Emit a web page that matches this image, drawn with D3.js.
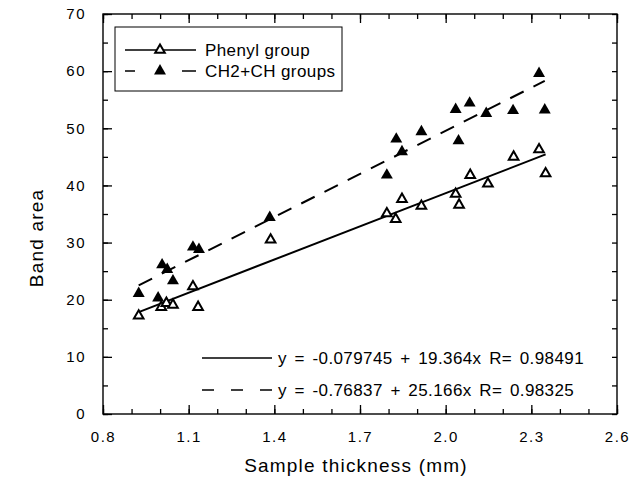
<!DOCTYPE html>
<html>
<head>
<meta charset="utf-8">
<style>
  body { margin: 0; background: #fff; }
  text { font-family: "Liberation Sans", Arial, Helvetica, sans-serif; fill: #000; }
</style>
</head>
<body>
<script src="https://cdn.jsdelivr.net/npm/d3@7"></script>
<script>

    // readings taken off the plot: sample thickness (mm) and band area
    var phenylX = [0.925, 1.004, 1.022, 1.045, 1.115, 1.133, 1.387, 1.794, 1.825, 1.847,
                   1.915, 2.035, 2.047, 2.086, 2.148, 2.238, 2.327, 2.350];
    var phenylY = [17.2, 18.7, 19.4, 19.1, 22.3, 18.7, 30.5, 35.1, 34.1, 37.6,
                   36.4, 38.5, 36.6, 41.8, 40.3, 45.0, 46.3, 42.1];

    var chX = [0.925, 0.993, 1.007, 1.025, 1.045, 1.115, 1.136, 1.384, 1.794, 1.827,
               1.847, 1.915, 2.035, 2.045, 2.084, 2.142, 2.236, 2.327, 2.347];
    var chY = [21.1, 20.3, 26.1, 25.3, 23.3, 29.2, 28.8, 34.4, 41.8, 48.1,
               45.9, 49.4, 53.3, 47.8, 54.4, 52.6, 53.1, 59.6, 53.2];

    // linear fits printed on the chart: [intercept, slope]
    var phenylFit = [-0.079745, 19.364];
    var chFit = [-0.76837, 25.166];

    var seriesNames = ["Phenyl group", "CH2+CH groups"];
    var fitLabels = ["y = -0.079745 + 19.364x R= 0.98491",
                     "y = -0.76837 + 25.166x R= 0.98325"];

    var xMajor = [0.8, 1.1, 1.4, 1.7, 2.0, 2.3, 2.6];
    var yMajor = [0, 10, 20, 30, 40, 50, 60, 70];

    var width = 635, height = 488;
    // plot frame (note: "top" would clash with window.top)
    var pL = 103, pR = 617, pT = 14, pB = 414;

    var x = d3.scaleLinear().domain([0.8, 2.6]).range([pL, pR]);
    var y = d3.scaleLinear().domain([0, 70]).range([pB, pT]);

    var svg = d3.select("body").append("svg")
        .attr("width", width)
        .attr("height", height);

    var xMinor = d3.range(8, 27).map(function (d) { return d / 10; });
    var yMinor = d3.range(0, 71, 5);

    function styleAxis(g) {
        g.select(".domain").remove();
        g.selectAll("line").attr("stroke", "#000").attr("stroke-width", 1.3);
        g.selectAll("text").attr("font-size", 15).attr("letter-spacing", 1.5)
            .style("font-family", "'Liberation Sans', Arial, sans-serif");
    }

    // minor ticks first, then majors with labels
    svg.append("g").attr("transform", "translate(0," + pB + ")")
        .call(d3.axisBottom(x).tickValues(xMinor).tickSize(-5).tickFormat(""))
        .call(styleAxis);
    svg.append("g").attr("transform", "translate(0," + pB + ")")
        .call(d3.axisBottom(x).tickValues(xMajor).tickSize(-9).tickPadding(17)
            .tickFormat(d3.format(".1f")))
        .call(styleAxis);

    svg.append("g").attr("transform", "translate(0," + pT + ")")
        .call(d3.axisTop(x).tickValues(xMinor).tickSize(-5).tickFormat(""))
        .call(styleAxis);
    svg.append("g").attr("transform", "translate(0," + pT + ")")
        .call(d3.axisTop(x).tickValues(xMajor).tickSize(-9).tickFormat(""))
        .call(styleAxis);

    svg.append("g").attr("transform", "translate(" + pL + ",0)")
        .call(d3.axisLeft(y).tickValues(yMinor).tickSize(-5).tickFormat(""))
        .call(styleAxis);
    svg.append("g").attr("transform", "translate(" + pL + ",0)")
        .call(d3.axisLeft(y).tickValues(yMajor).tickSize(-9).tickPadding(17))
        .call(styleAxis);

    svg.append("g").attr("transform", "translate(" + pR + ",0)")
        .call(d3.axisRight(y).tickValues(yMinor).tickSize(-5).tickFormat(""))
        .call(styleAxis);

    // frame
    svg.append("rect")
        .attr("x", pL).attr("y", pT)
        .attr("width", pR - pL).attr("height", pB - pT)
        .attr("fill", "none").attr("stroke", "#000").attr("stroke-width", 1.4);

    // axis titles
    svg.append("text")
        .attr("x", (pL + pR) / 2 - 4).attr("y", 472)
        .attr("text-anchor", "middle")
        .attr("font-size", 19).attr("letter-spacing", 1.2)
        .text("Sample thickness (mm)");

    svg.append("text")
        .attr("transform", "translate(43,238) rotate(-90)")
        .attr("text-anchor", "middle")
        .attr("font-size", 19).attr("letter-spacing", 1.2)
        .text("Band area");

    // fitted lines over the span of each series
    var line = d3.line()
        .x(function (d) { return x(d[0]); })
        .y(function (d) { return y(d[1]); });

    function fitPoints(xs, fit) {
        return d3.extent(xs).map(function (v) { return [v, fit[0] + fit[1] * v]; });
    }

    svg.append("path")
        .datum(fitPoints(phenylX, phenylFit))
        .attr("d", line)
        .attr("fill", "none").attr("stroke", "#000").attr("stroke-width", 2);

    svg.append("path")
        .datum(fitPoints(chX, chFit))
        .attr("d", line)
        .attr("fill", "none").attr("stroke", "#000").attr("stroke-width", 2)
        .attr("stroke-dasharray", "15,11");

    // markers
    var openTri = d3.symbol().type(d3.symbolTriangle).size(40);
    var fillTri = d3.symbol().type(d3.symbolTriangle).size(62);

    svg.append("g").selectAll("path")
        .data(d3.zip(phenylX, phenylY))
        .join("path")
        .attr("transform", function (d) { return "translate(" + x(d[0]) + "," + y(d[1]) + ")"; })
        .attr("d", openTri)
        .attr("fill", "#fff").attr("stroke", "#000").attr("stroke-width", 2);

    svg.append("g").selectAll("path")
        .data(d3.zip(chX, chY))
        .join("path")
        .attr("transform", function (d) { return "translate(" + x(d[0]) + "," + y(d[1]) + ")"; })
        .attr("d", fillTri)
        .attr("fill", "#000");

    // legend
    var legend = svg.append("g");
    legend.append("rect")
        .attr("x", 115).attr("y", 27).attr("width", 227).attr("height", 64)
        .attr("fill", "#fff").attr("stroke", "#000").attr("stroke-width", 1);

    legend.append("line")
        .attr("x1", 125).attr("x2", 196).attr("y1", 50).attr("y2", 50)
        .attr("stroke", "#000").attr("stroke-width", 1.6);
    legend.append("path")
        .attr("transform", "translate(160,50)")
        .attr("d", openTri)
        .attr("fill", "#fff").attr("stroke", "#000").attr("stroke-width", 2);

    legend.append("line")
        .attr("x1", 125).attr("x2", 196).attr("y1", 71).attr("y2", 71)
        .attr("stroke", "#000").attr("stroke-width", 1.6)
        .attr("stroke-dasharray", "10,47,14");
    legend.append("path")
        .attr("transform", "translate(160,71)")
        .attr("d", fillTri)
        .attr("fill", "#000");

    legend.selectAll("text.name")
        .data(seriesNames)
        .join("text")
        .attr("class", "name")
        .attr("x", 205)
        .attr("y", function (d, i) { return 56 + i * 21; })
        .attr("font-size", 17)
        .attr("letter-spacing", 0.4)
        .text(function (d) { return d; });

    // fit equations
    var eq = svg.append("g");
    eq.selectAll("line")
        .data(fitLabels)
        .join("line")
        .attr("x1", 202).attr("x2", 272)
        .attr("y1", function (d, i) { return 358 + i * 32; })
        .attr("y2", function (d, i) { return 358 + i * 32; })
        .attr("stroke", "#000").attr("stroke-width", 1.5)
        .attr("stroke-dasharray", function (d, i) { return i ? "12,17" : null; });

    eq.selectAll("text")
        .data(fitLabels)
        .join("text")
        .attr("x", 278)
        .attr("y", function (d, i) { return 364 + i * 32; })
        .attr("font-size", 17)
        .attr("word-spacing", 2.5)
        .attr("letter-spacing", 0.4)
        .text(function (d) { return d; });

</script>
</body>
</html>
